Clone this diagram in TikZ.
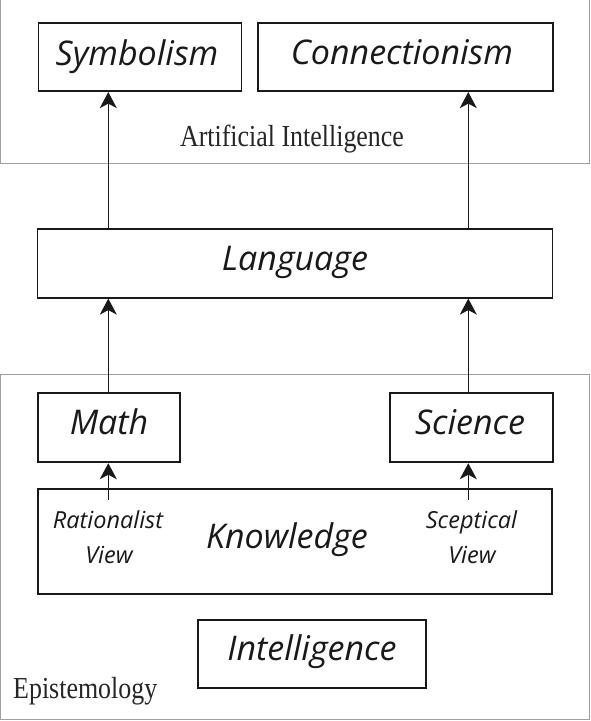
\documentclass[tikz,border=0pt]{standalone}
\usepackage{fontspec}
\usetikzlibrary{arrows.meta}
\newfontfamily\handfont{Open Sans}
\newfontfamily\labelfont[FakeStretch=0.85]{Liberation Serif}
\tikzset{
  region/.style={draw=gray!75, line width=1pt},
  box/.style={draw=black!90, line width=1.8pt, rectangle, inner sep=0pt},
  bigtxt/.style={anchor=base, inner sep=0pt, font=\handfont\itshape\fontsize{34}{38}\selectfont, text=black!90},
  smalltxt/.style={anchor=base, inner sep=0pt, font=\handfont\itshape\fontsize{23.5}{26}\selectfont, text=black!90},
  regtxt/.style={anchor=base, inner sep=0pt, font=\labelfont\fontsize{30.5}{34}\selectfont, text=black!85},
  arr/.style={draw=black!90, line width=1.3pt, -{Stealth[length=16pt,width=17pt,inset=4.5pt]}},
}
\begin{document}
\begin{tikzpicture}[x=1pt,y=-1pt]
\useasboundingbox (0,0) rectangle (590,721);
\fill[white] (0,0) rectangle (590,721);
% regions
\draw[region] (0.7,-3) rectangle (589,163);
\draw[region] (0.7,374) rectangle (589,719.5);
\node[regtxt] (ailab) at (292,146) {Artificial Intelligence};
\node[regtxt, anchor=base west] (eplab) at (13,698) {Epistemology};
% boxes
\node[box, minimum width=203pt, minimum height=68pt] (sym) at (140,57.2) {};
\node[box, minimum width=295pt, minimum height=68pt] (con) at (405.7,57.2) {};
\node[box, minimum width=515pt, minimum height=68.4pt] (lang) at (295,263.5) {};
\node[box, minimum width=142pt, minimum height=69pt] (math) at (109.2,427.8) {};
\node[box, minimum width=163pt, minimum height=69pt] (sci) at (471.7,427.8) {};
\node[box, minimum width=513.4pt, minimum height=105pt] (know) at (295,541.5) {};
\node[box, minimum width=228pt, minimum height=68.3pt] (intel) at (312.2,654.2) {};
% texts
\node[bigtxt] (symt) at (137,65) {Symbolism};
\node[bigtxt] (cont) at (402,64) {Connectionism};
\node[bigtxt] (langt) at (295,270) {Language};
\node[bigtxt] (matht) at (109,434) {Math};
\node[bigtxt] (scit) at (470,434) {Science};
\node[bigtxt] (knowt) at (287,548) {Knowledge};
\node[bigtxt] (intelt) at (312,660) {Intelligence};
\node[smalltxt] (rat1) at (108,528) {Rationalist};
\node[smalltxt] (rat2) at (109,563) {View};
\node[smalltxt] (sce1) at (471.5,528) {Sceptical};
\node[smalltxt] (sce2) at (472,563) {View};
% arrow columns
\coordinate (lx) at (108.3,0);
\coordinate (rx) at (468.3,0);
\coordinate (ks) at (0,500);
\draw[arr] (lang.north -| lx) -- (sym.south -| lx);
\draw[arr] (lang.north -| rx) -- (con.south -| rx);
\draw[arr] (math.north -| lx) -- (lang.south -| lx);
\draw[arr] (sci.north -| rx) -- (lang.south -| rx);
\draw[arr] (ks -| lx) -- (math.south -| lx);
\draw[arr] (ks -| rx) -- (sci.south -| rx);
\end{tikzpicture}
\end{document}
